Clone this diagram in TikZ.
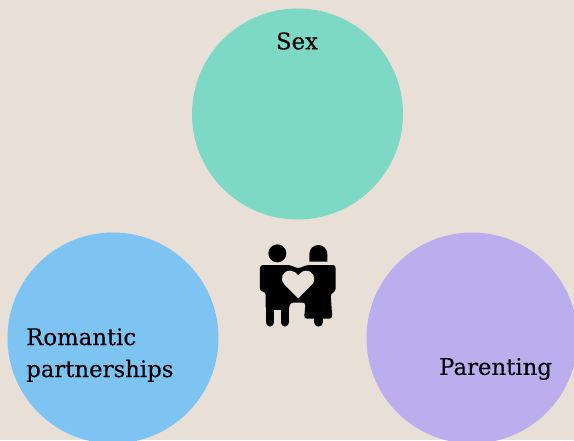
\documentclass[tikz,border=0pt]{standalone}
\usepackage{fontspec}
\setmainfont{DejaVu Serif}[FakeBold=0.3]
\usetikzlibrary{positioning}
\definecolor{fondo}{RGB}{232, 223, 214}
\definecolor{verde}{RGB}{125, 217, 198}
\definecolor{azul}{RGB}{125, 196, 242}
\definecolor{lila}{RGB}{187, 174, 238}
\tikzset{
    bubble/.style={circle, draw=none, inner sep=0pt, minimum size=211pt},
    label/.style={inner sep=0pt, text=black, font=\fontsize{22.8}{32}\selectfont, align=left},
    icon/.style={fill=black, draw=none},
    limb/.style={draw=black, line width=8.5pt, line cap=round},
}
\begin{document}
\begin{tikzpicture}[x=1pt, y=-1pt]
    \fill[fondo] (0,0) rectangle (574,440);
    \useasboundingbox (0,0) rectangle (574,440);
    \clip (0,0) rectangle (574,440);

    \node [bubble, fill=verde] (sex) at (297.5,114) {};
    \node [bubble, fill=azul] (romance) at (113,338) {};
    \node [bubble, fill=lila] (parent) at (472,338) {};

    \node [label] (sexT) at (297,41) {Sex};
    \node [label, anchor=west] (romanceT) at (26,355) {Romantic\\partnerships};
    \node [label, anchor=west] (parentT) at (439,369) {Parenting};

    % couple icon
    \begin{scope}[shift={(240,230)}, x=0.3333pt, y=-0.3333pt]
        \fill[icon] (112,70) circle (27);
        \fill[icon] (208,95) -- (208,72) arc[start angle=180, end angle=360, radius=27] -- (262,95) -- cycle;
        \fill[icon, rounded corners=3pt] (60,105) -- (150,105) -- (175,116) -- (200,105) -- (287,105) -- (287,185) -- (272,190)
            -- (277,266) -- (192,266) -- (197,218) -- (150,218) -- (147,240) -- (77,240) -- (77,185) -- (60,185) -- cycle;
        \draw[limb] (90,220) -- (90,277);
        \draw[limb] (135,220) -- (135,277);
        \draw[limb] (236,250) -- (236,277);
        \fill[fondo] (175,205) -- (133,163) .. controls (118,146) and (128,122) .. (150,122)
            .. controls (160,122) and (170,128) .. (175,136)
            .. controls (180,128) and (190,122) .. (198,122)
            .. controls (220,122) and (230,146) .. (217,163) -- cycle;
    \end{scope}
\end{tikzpicture}
\end{document}
